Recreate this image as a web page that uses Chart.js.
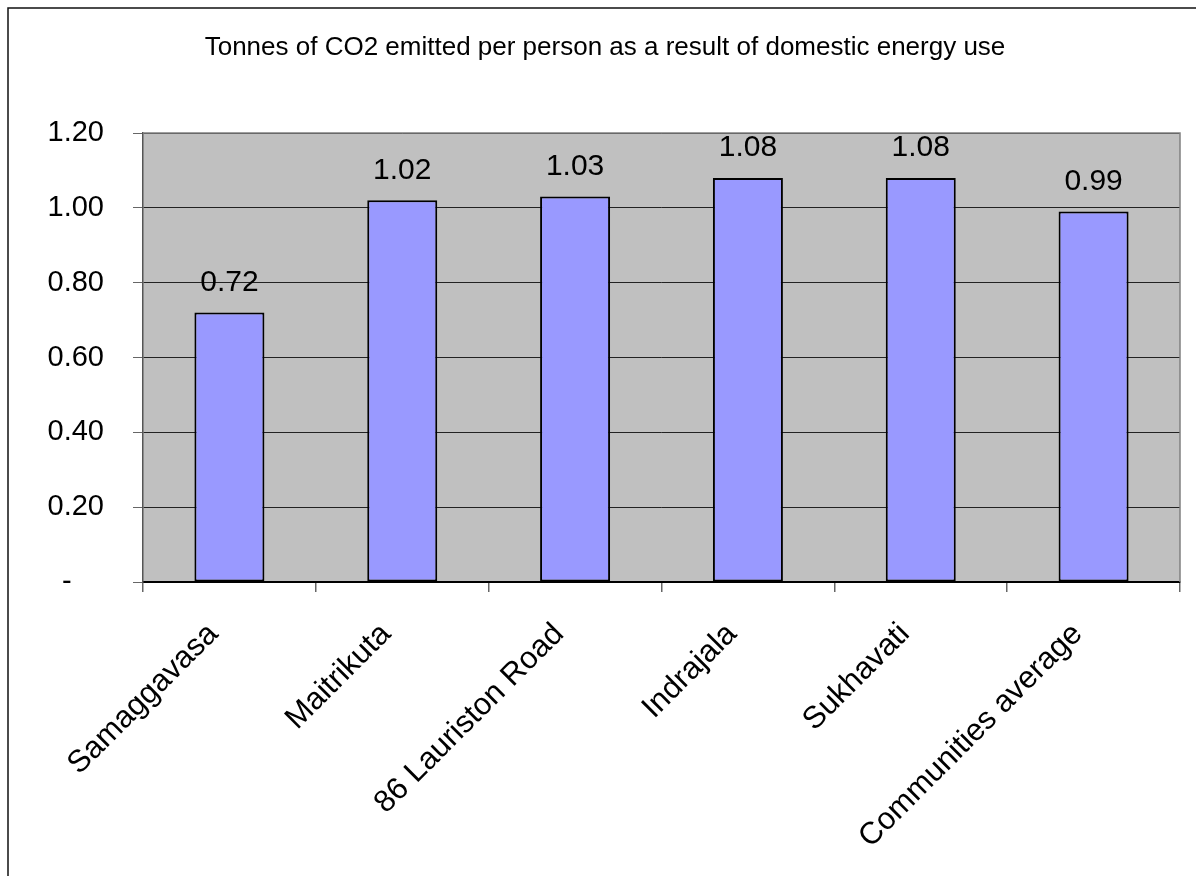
<!DOCTYPE html>
<html>
<head>
<meta charset="utf-8">
<script src="https://cdn.jsdelivr.net/npm/chart.js@4"></script>
<style>
  html, body { margin: 0; padding: 0; background: #fff; }
  #wrap { width: 1196px; height: 876px; position: relative; }
</style>
</head>
<body>
<div id="wrap"><canvas id="c" width="1196" height="876"></canvas></div>
<script>
const chartTitle = 'Tonnes of CO2 emitted per person as a result of domestic energy use';
const categories = ['Samaggavasa', 'Maitrikuta', '86 Lauriston Road', 'Indrajala', 'Sukhavati', 'Communities average'];
const emissions = [0.72, 1.02, 1.03, 1.08, 1.08, 0.99];
const yTicks = [0, 0.2, 0.4, 0.6, 0.8, 1.0, 1.2];

const FONT = '"Liberation Sans", Arial, sans-serif';

// Outer frame of the chart object (top and left edges) and the title
const framePlugin = {
  id: 'frame',
  beforeDraw(chart) {
    const ctx = chart.ctx;
    ctx.save();
    ctx.fillStyle = '#fff';
    ctx.fillRect(0, 0, chart.width, chart.height);
    ctx.strokeStyle = '#111';
    ctx.lineWidth = 1.5;
    ctx.beginPath();
    ctx.moveTo(8, chart.height + 5);
    ctx.lineTo(8, 8);
    ctx.lineTo(chart.width + 5, 8);
    ctx.stroke();
    ctx.font = '26px ' + FONT;
    ctx.fillStyle = '#000';
    ctx.textAlign = 'center';
    ctx.textBaseline = 'alphabetic';
    ctx.fillText(chartTitle, 605, 55);
    ctx.restore();
  }
};

// Gray plot background and its border
const plotAreaPlugin = {
  id: 'plotArea',
  beforeDraw(chart) {
    const a = chart.chartArea, ctx = chart.ctx;
    ctx.save();
    ctx.fillStyle = '#C0C0C0';
    ctx.fillRect(a.left, a.top, a.right - a.left, a.bottom - a.top);
    ctx.restore();
  },
  afterDraw(chart) {
    const a = chart.chartArea, ctx = chart.ctx;
    ctx.save();
    ctx.strokeStyle = '#808080';
    ctx.lineWidth = 1.5;
    ctx.beginPath();
    ctx.moveTo(a.left, a.top);
    ctx.lineTo(a.right, a.top);
    ctx.lineTo(a.right, a.bottom);
    ctx.stroke();
    ctx.restore();
  }
};

// Value labels above each bar
const valueLabelPlugin = {
  id: 'valueLabels',
  afterDatasetsDraw(chart) {
    const ctx = chart.ctx;
    const meta = chart.getDatasetMeta(0);
    ctx.save();
    ctx.font = '30px ' + FONT;
    ctx.fillStyle = '#000';
    ctx.textAlign = 'center';
    ctx.textBaseline = 'middle';
    meta.data.forEach((bar, i) => {
      ctx.fillText(emissions[i].toFixed(2), bar.x, bar.y - 30);
    });
    ctx.restore();
  }
};

new Chart(document.getElementById('c'), {
  type: 'bar',
  data: {
    labels: categories,
    datasets: [{
      data: emissions,
      backgroundColor: '#9999FF',
      borderColor: '#000',
      borderWidth: 2,
      borderSkipped: false,
      categoryPercentage: 1,
      barPercentage: 0.405
    }]
  },
  options: {
    responsive: false,
    animation: false,
    devicePixelRatio: 1,
    layout: { padding: { left: 0, right: 16, top: 133, bottom: 0 } },
    plugins: {
      legend: { display: false },
      tooltip: { enabled: false },
      title: { display: false }
    },
    scales: {
      x: {
        grid: {
          display: true,
          offset: true,
          drawOnChartArea: false,
          drawTicks: true,
          tickLength: 10,
          color: '#666',
          lineWidth: 1.5
        },
        border: { display: true, color: '#000', width: 2 },
        ticks: {
          color: '#000',
          font: { family: FONT, size: 31 },
          maxRotation: 45,
          minRotation: 45,
          padding: 24,
          labelOffset: -16,
          autoSkip: false
        },
        afterFit(scale) { scale.height = 876 - 582; }
      },
      y: {
        min: 0,
        max: 1.2,
        afterBuildTicks(scale) { scale.ticks = yTicks.map(v => ({ value: v })); },
        grid: {
          color: '#222',
          lineWidth: 1,
          drawTicks: true,
          tickLength: 10,
          tickColor: '#666'
        },
        border: { display: true, color: '#555', width: 1.5 },
        ticks: {
          color: '#000',
          font: { family: FONT, size: 29 },
          padding: 29,
          callback(v) { return v === 0 ? '-    ' : Number(v).toFixed(2); }
        },
        afterFit(scale) { scale.width = 143; }
      }
    }
  },
  plugins: [framePlugin, plotAreaPlugin, valueLabelPlugin]
});
</script>
</body>
</html>
